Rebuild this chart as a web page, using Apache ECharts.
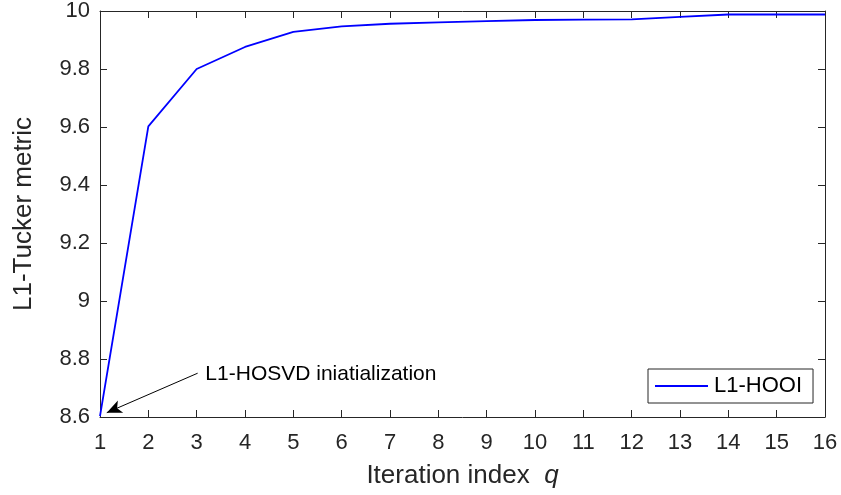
<!DOCTYPE html>
<html><head><meta charset="utf-8">
<script src="https://cdn.jsdelivr.net/npm/echarts@6/dist/echarts.min.js"></script>
<style>html,body{margin:0;padding:0;background:#fff}#c{width:841px;height:495px}</style>
</head><body><div id="c"></div>
<script>
var iterations = [1,2,3,4,5,6,7,8,9,10,11,12,13,14,15,16];
var metric = [8.603,9.602,9.800,9.876,9.928,9.947,9.956,9.961,9.965,9.969,9.970,9.971,9.980,9.988,9.988,9.988];
var seriesName = 'L1-HOOI';
var annotText = 'L1-HOSVD iniatialization';
var arrowTail = [3.02, 8.751];
var arrowHead = [1.14, 8.615];
var textAnchor = [3.18, 8.749];

var font = 'Liberation Sans, Arial, Helvetica, sans-serif';
var axCol = '#262626';
var chart = echarts.init(document.getElementById('c'));
var data = iterations.map(function(x,i){return [x, metric[i]];});
var axisCommon = {
  axisLine:{show:true,onZero:false,lineStyle:{color:axCol,width:1}},
  axisTick:{show:true,inside:true,length:7,lineStyle:{color:axCol}},
  splitLine:{show:false}
};
chart.setOption({
  animation:false,
  grid:{left:100,right:16,top:10,bottom:78},
  xAxis:[
    Object.assign({type:'value',min:1,max:16,interval:1,position:'bottom',
      name:'Iteration index  {i|q}',nameLocation:'middle',nameGap:46,
      nameTextStyle:{fontFamily:font,fontSize:26,color:axCol,rich:{i:{fontFamily:font,fontSize:26,fontStyle:'italic',color:axCol}}},
      axisLabel:{fontFamily:font,fontSize:22,color:axCol,margin:15}}, axisCommon),
    Object.assign({type:'value',min:1,max:16,interval:1,position:'top',axisLabel:{show:false}}, axisCommon)
  ],
  yAxis:[
    Object.assign({type:'value',min:8.6,max:10,interval:0.2,position:'left',
      name:'L1-Tucker metric',nameLocation:'middle',nameGap:63,
      nameTextStyle:{fontFamily:font,fontSize:26,color:axCol},
      axisLabel:{fontFamily:font,fontSize:22,color:axCol,margin:10}}, axisCommon),
    Object.assign({type:'value',min:8.6,max:10,interval:0.2,position:'right',axisLabel:{show:false}}, axisCommon)
  ],
  legend:{
    left:648,top:369,orient:'vertical',
    itemWidth:53,itemHeight:2,itemGap:0,
    padding:[6,11,6,7],
    borderColor:axCol,borderWidth:1,backgroundColor:'#fff',
    textStyle:{fontFamily:font,fontSize:22,color:'#000',padding:[0,0,0,1]},
    data:[{name:seriesName,icon:'rect'}]
  },
  series:[{
    name:seriesName,type:'line',data:data,showSymbol:false,symbol:'none',
    lineStyle:{color:'#0000ff',width:1.8},itemStyle:{color:'#0000ff'},
    markLine:{
      silent:true,symbol:['none','arrow'],symbolSize:[10,15],
      lineStyle:{color:'#000',width:1,type:'solid'},
      label:{show:false},
      data:[[{coord:arrowTail},{coord:arrowHead}]]
    },
    markPoint:{
      silent:true,symbol:'circle',symbolSize:0,
      label:{show:true,position:'right',distance:0,formatter:annotText,fontFamily:font,fontSize:21,color:'#000'},
      data:[{coord:textAnchor}]
    }
  }]
});
</script></body></html>
